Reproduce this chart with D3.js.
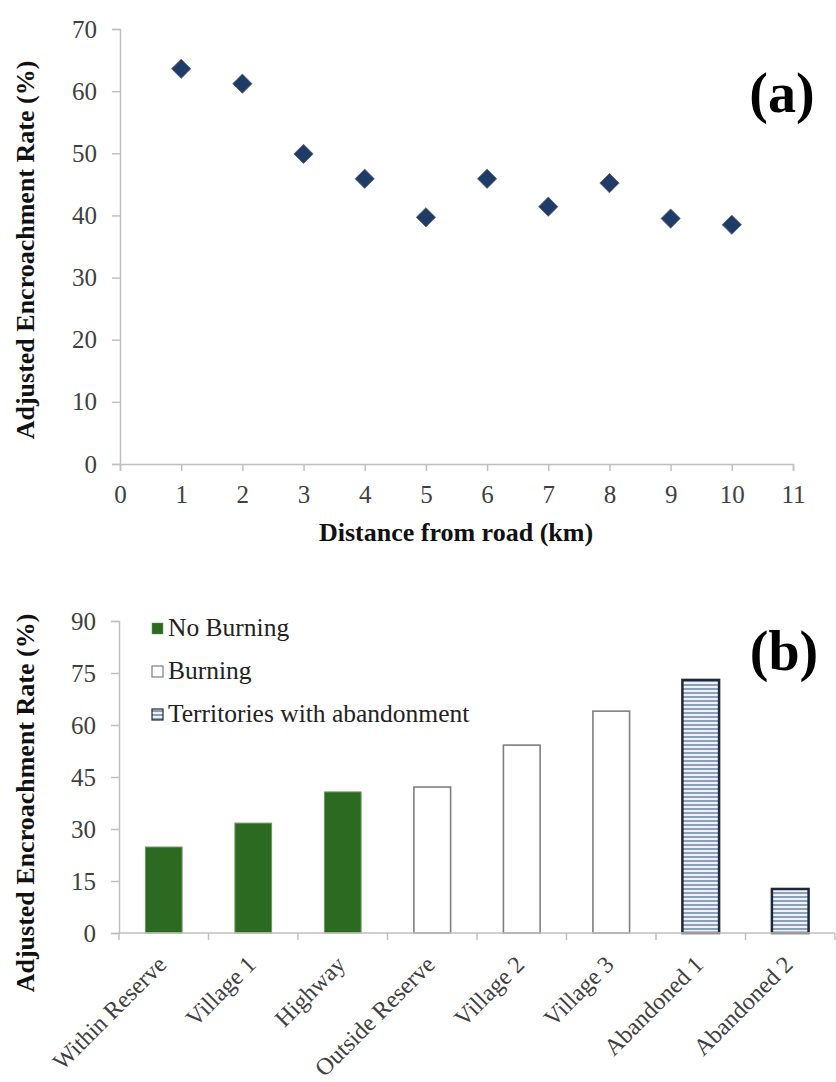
<!DOCTYPE html>
<html><head><meta charset="utf-8">
<script src="https://cdn.jsdelivr.net/npm/d3@7"></script>
<style>body{margin:0;background:#fff}svg{display:block}text{font-family:"Liberation Serif","Times New Roman",serif}</style>
</head><body>
<svg id="c" width="836" height="1082"></svg>
<script>
// Panel (a)
const distances = [1,2,3,4,5,6,7,8,9,10];
const ratesA = [63.6,61.2,49.9,45.9,39.7,45.9,41.4,45.2,39.5,38.5];
const xTicksA = [0,1,2,3,4,5,6,7,8,9,10,11];
const yTicksA = [0,10,20,30,40,50,60,70];
// Panel (b)
const sites = ["Within Reserve","Village 1","Highway","Outside Reserve","Village 2","Village 3","Abandoned 1","Abandoned 2"];
const ratesB = [24.8,31.7,40.7,42.1,54.2,64.0,73.0,12.7];
const groupB = ["No Burning","No Burning","No Burning","Burning","Burning","Burning","Territories with abandonment","Territories with abandonment"];
const legendB = ["No Burning","Burning","Territories with abandonment"];
const yTicksB = [0,15,30,45,60,75,90];

const svg = d3.select("#c");
const axisColor = "#c0c0c0", labColor = "#404040";
const defs = svg.append("defs");
const pat = defs.append("pattern").attr("id","hatch").attr("patternUnits","userSpaceOnUse").attr("width",8).attr("height",4);
pat.append("rect").attr("width",8).attr("height",4).attr("fill","#eef2f7");
pat.append("rect").attr("y",0).attr("width",8).attr("height",2).attr("fill","#8c9fb9");

function styleAxis(g){
  g.select(".domain").attr("stroke",axisColor).attr("stroke-width",1.5);
  g.selectAll(".tick line").attr("stroke",axisColor).attr("stroke-width",1.5);
  g.selectAll(".tick text").attr("fill",labColor).style("font-size","25px").style("font-family","Liberation Serif");
}

// ---- Panel (a)
const xA = d3.scaleLinear().domain([0,11]).range([120,793]);
const yA = d3.scaleLinear().domain([0,70]).range([464,29]);
svg.append("g").attr("transform","translate(0,464)")
  .call(d3.axisBottom(xA).tickValues(xTicksA).tickSize(7).tickPadding(14).tickSizeOuter(7))
  .call(styleAxis);
svg.append("g").attr("transform","translate(120,0)")
  .call(d3.axisLeft(yA).tickValues(yTicksA).tickSize(8).tickPadding(15).tickSizeOuter(8))
  .call(styleAxis);
svg.append("g").selectAll("path").data(distances).join("path")
  .attr("d", d3.symbol(d3.symbolSquare, 185)())
  .attr("transform",(d,i)=>`translate(${xA(d)},${yA(ratesA[i])}) rotate(45)`)
  .attr("fill","#1f3c68").attr("stroke","#5a6270").attr("stroke-width",0.8);
svg.append("text").attr("x",456).attr("y",541).attr("text-anchor","middle")
  .style("font-size","26px").style("font-weight","bold").attr("fill","#111").text("Distance from road (km)");
svg.append("text").attr("transform","translate(34,250) rotate(-90)").attr("text-anchor","middle")
  .style("font-size","26px").style("font-weight","bold").attr("fill","#111").text("Adjusted Encroachment Rate (%)");
svg.append("text").attr("x",782).attr("y",112).attr("text-anchor","middle")
  .style("font-size","56px").style("font-weight","bold").attr("fill","#000").text("(a)");

// ---- Panel (b)
const xB = d3.scaleBand().domain(sites).range([119,835]).paddingInner(0.59).paddingOuter(0.295);
const xBt = d3.scaleBand().domain(sites).range([119,835]);
const yB = d3.scaleLinear().domain([0,90]).range([933,621]);
const fillOf = g => g==="No Burning" ? "#2b6a20" : g==="Burning" ? "#ffffff" : "url(#hatch)";
const strokeOf = g => g==="No Burning" ? "#6c9a5f" : g==="Burning" ? "#7f7f7f" : "#1e2838";
const swOf = g => g==="No Burning" ? 1 : g==="Burning" ? 1.6 : 2.5;
svg.append("g").selectAll("rect").data(sites).join("rect")
  .attr("x",d=>xB(d)).attr("width",xB.bandwidth())
  .attr("y",(d,i)=>yB(ratesB[i])).attr("height",(d,i)=>yB(0)-yB(ratesB[i]))
  .attr("fill",(d,i)=>fillOf(groupB[i])).attr("stroke",(d,i)=>strokeOf(groupB[i])).attr("stroke-width",(d,i)=>swOf(groupB[i]));
// x axis with ticks at band boundaries
const gx = svg.append("g").attr("transform","translate(0,933)");
gx.append("line").attr("x1",119).attr("x2",835).attr("stroke",axisColor).attr("stroke-width",1.5);
const bounds = sites.map(s=>xBt(s)).concat([xBt(sites[sites.length-1])+xBt.bandwidth()]);
gx.selectAll("line.t").data(bounds).join("line").attr("class","t")
  .attr("x1",d=>d).attr("x2",d=>d).attr("y1",0).attr("y2",7).attr("stroke",axisColor).attr("stroke-width",1.5);
gx.selectAll("text").data(sites).join("text")
  .attr("transform",d=>`translate(${xBt(d)+xBt.bandwidth()/2+4},${33}) rotate(-45)`)
  .attr("text-anchor","end").attr("fill",labColor).style("font-size","24px").text(d=>d);
svg.append("g").attr("transform","translate(119,0)")
  .call(d3.axisLeft(yB).tickValues(yTicksB).tickSize(8).tickPadding(15).tickSizeOuter(8))
  .call(styleAxis);
svg.append("text").attr("transform","translate(34,803) rotate(-90)").attr("text-anchor","middle")
  .style("font-size","26px").style("font-weight","bold").attr("fill","#111").text("Adjusted Encroachment Rate (%)");
svg.append("text").attr("x",784).attr("y",670).attr("text-anchor","middle")
  .style("font-size","56px").style("font-weight","bold").attr("fill","#000").text("(b)");
// legend
const lg = svg.append("g").selectAll("g").data(legendB).join("g")
  .attr("transform",(d,i)=>`translate(152,${628+i*43})`);
lg.append("rect").attr("x",0).attr("y",-5).attr("width",11).attr("height",11)
  .attr("fill",d=>fillOf(d)).attr("stroke",d=>strokeOf(d)).attr("stroke-width",d=>d==="No Burning"?0.5:1.2);
lg.append("text").attr("x",16).attr("y",8).attr("fill","#222").style("font-size","25.5px").text(d=>d);
</script>
</body></html>
